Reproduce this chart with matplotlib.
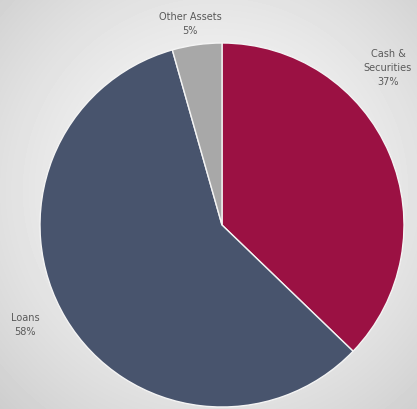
import numpy as np
import matplotlib
matplotlib.use("Agg")
import matplotlib.pyplot as plt

# asset mix (share of total, %)
categories = ["Cash &\nSecurities", "Loans", "Other Assets"]
values = [37.2, 58.4, 4.4]
pct_labels = ["37%", "58%", "5%"]
colors = ["#9B1143", "#48546D", "#A8A8A8"]

W, H = 417, 409
fig = plt.figure(figsize=(W / 100, H / 100), dpi=100)
ax = fig.add_axes([0, 0, 1, 1])

# radial grey background
yy, xx = np.mgrid[0:H, 0:W]
r = np.hypot(xx - 215, yy - 190) / np.hypot(215, 220)
bg = 0.975 - 0.17 * r ** 1.6
ax.imshow(bg, cmap="gray", vmin=0, vmax=1, extent=[0, W, 0, H],
          origin="upper", zorder=0, aspect="auto")

cx, cy, rad = 222, H - 225, 182
wedges, _ = ax.pie(values, colors=colors, startangle=90, counterclock=False,
                   center=(cx, cy), radius=rad, frame=True,
                   wedgeprops=dict(edgecolor="#f4f4f4", linewidth=1.0))
for w in wedges:
    w.set_zorder(2)
ax.set_xlim(0, W)
ax.set_ylim(0, H)
ax.axis("off")

txt = dict(ha="center", va="center", fontsize=7.0, color="#5a5a5a",
           family=["DejaVu Sans"], linespacing=1.5, zorder=3)
ax.text(388, H - 68, categories[0] + "\n" + pct_labels[0], **txt)
ax.text(25, H - 325, categories[1] + "\n" + pct_labels[1], **txt)
ax.text(190, H - 24, categories[2] + "\n" + pct_labels[2], **txt)

fig.savefig("out.png", dpi=100)
